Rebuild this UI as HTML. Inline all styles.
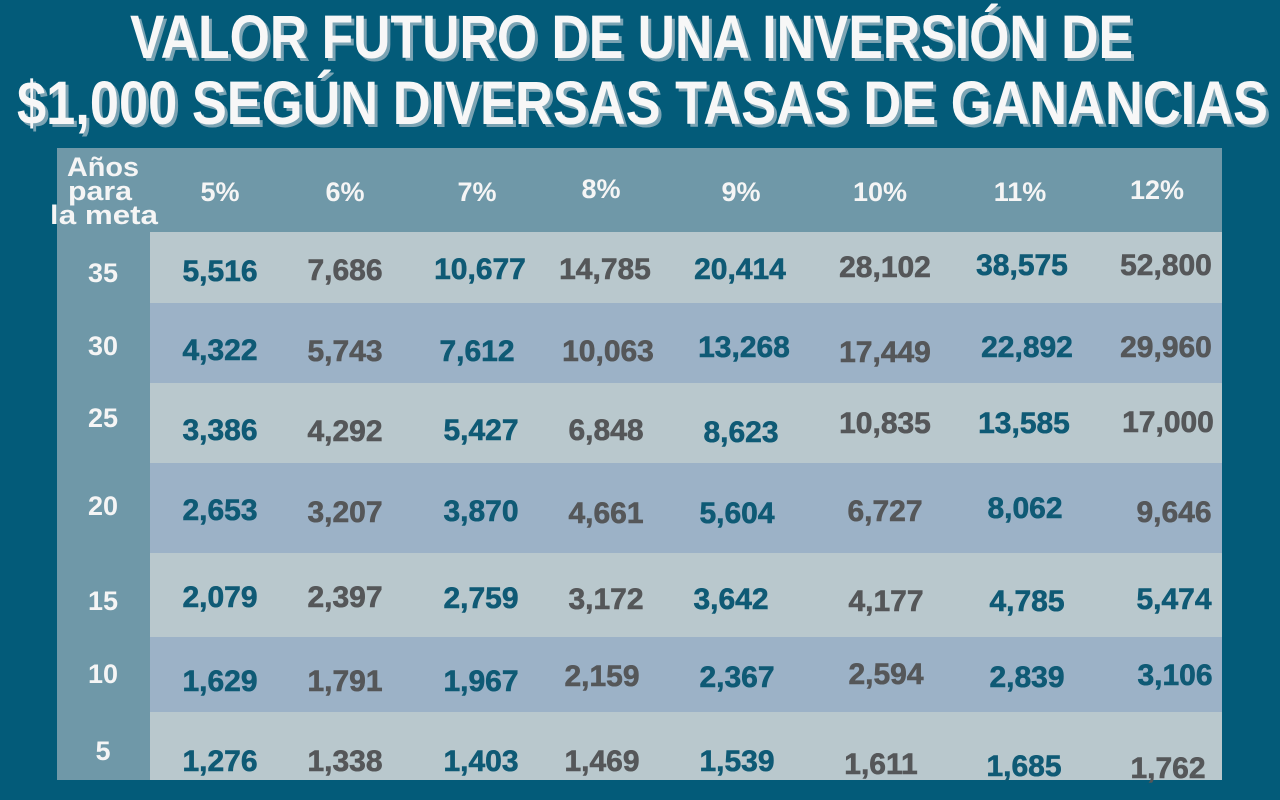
<!DOCTYPE html>
<html><head><meta charset="utf-8"><style>
html,body{margin:0;padding:0;background:#035b79;width:1280px;height:800px;overflow:hidden}
svg{display:block}
.t{font-family:"Liberation Sans",sans-serif;font-weight:bold;fill:#f7f7f7}
.n{font-family:"Liberation Sans",sans-serif;font-weight:bold;font-size:30px;text-anchor:middle;stroke-width:0.6}
.c{fill:#0f5a75;stroke:#0f5a75}.g{fill:#555759;stroke:#555759}
.h{font-family:"Liberation Sans",sans-serif;font-weight:bold;font-size:27px;fill:#f5f5f5;text-anchor:middle}
</style></head><body>
<svg width="1280" height="800" viewBox="0 0 1280 800" xmlns="http://www.w3.org/2000/svg">
<rect width="1280" height="800" fill="#035b79"/>
<g class="t" font-size="61">
<text x="133" y="61" textLength="1003" lengthAdjust="spacingAndGlyphs" fill="#7aa3b3">VALOR FUTURO DE UNA INVERSIÓN DE</text>
<text x="130" y="58" textLength="1003" lengthAdjust="spacingAndGlyphs">VALOR FUTURO DE UNA INVERSIÓN DE</text>
<text x="20" y="127" textLength="1251" lengthAdjust="spacingAndGlyphs" fill="#7aa3b3">$1,000 SEGÚN DIVERSAS TASAS DE GANANCIAS</text>
<text x="17" y="124" textLength="1251" lengthAdjust="spacingAndGlyphs">$1,000 SEGÚN DIVERSAS TASAS DE GANANCIAS</text>
</g>
<rect x="57" y="148" width="1165" height="632" fill="#6f98a8"/>
<rect x="150" y="232" width="1072" height="71" fill="#b9c8cd"/>
<rect x="150" y="303" width="1072" height="80" fill="#9cb2c7"/>
<rect x="150" y="383" width="1072" height="80" fill="#b9c8cd"/>
<rect x="150" y="463" width="1072" height="90" fill="#9cb2c7"/>
<rect x="150" y="553" width="1072" height="84" fill="#b9c8cd"/>
<rect x="150" y="637" width="1072" height="75" fill="#9cb2c7"/>
<rect x="150" y="712" width="1072" height="68" fill="#b9c8cd"/>
<g class="h" font-size="26">
<text x="103" y="176" textLength="72" lengthAdjust="spacingAndGlyphs">Años</text><text x="100" y="200" textLength="64" lengthAdjust="spacingAndGlyphs">para</text><text x="104" y="224" textLength="108" lengthAdjust="spacingAndGlyphs">la meta</text>
</g>
<g class="h">
<text x="220" y="201">5%</text><text x="345" y="201">6%</text><text x="477" y="201">7%</text><text x="601" y="198">8%</text>
<text x="741" y="201">9%</text><text x="880" y="201">10%</text><text x="1020" y="201">11%</text><text x="1157" y="199">12%</text>
<text x="103" y="282">35</text><text x="103" y="355">30</text><text x="103" y="427">25</text><text x="103" y="515">20</text>
<text x="103" y="610">15</text><text x="103" y="683">10</text><text x="103" y="760">5</text>
</g>
<g class="n">
<text class="c" x="220" y="281">5,516</text><text class="g" x="345" y="280">7,686</text><text class="c" x="480" y="279">10,677</text><text class="g" x="605" y="279">14,785</text><text class="c" x="740" y="279">20,414</text><text class="g" x="885" y="277">28,102</text><text class="c" x="1022" y="275">38,575</text><text class="g" x="1166" y="275">52,800</text>
<text class="c" x="220" y="360">4,322</text><text class="g" x="345" y="361">5,743</text><text class="c" x="477" y="361">7,612</text><text class="g" x="608" y="361">10,063</text><text class="c" x="744" y="357">13,268</text><text class="g" x="885" y="362">17,449</text><text class="c" x="1027" y="357">22,892</text><text class="g" x="1166" y="357">29,960</text>
<text class="c" x="220" y="440">3,386</text><text class="g" x="345" y="441">4,292</text><text class="c" x="481" y="440">5,427</text><text class="g" x="606" y="440">6,848</text><text class="c" x="741" y="442">8,623</text><text class="g" x="885" y="433">10,835</text><text class="c" x="1024" y="433">13,585</text><text class="g" x="1168" y="432">17,000</text>
<text class="c" x="220" y="520">2,653</text><text class="g" x="345" y="522">3,207</text><text class="c" x="481" y="521">3,870</text><text class="g" x="606" y="523">4,661</text><text class="c" x="737" y="523">5,604</text><text class="g" x="885" y="521">6,727</text><text class="c" x="1025" y="518">8,062</text><text class="g" x="1174" y="522">9,646</text>
<text class="c" x="220" y="607">2,079</text><text class="g" x="345" y="607">2,397</text><text class="c" x="481" y="608">2,759</text><text class="g" x="606" y="609">3,172</text><text class="c" x="731" y="609">3,642</text><text class="g" x="886" y="611">4,177</text><text class="c" x="1027" y="611">4,785</text><text class="c" x="1174" y="609">5,474</text>
<text class="c" x="220" y="691">1,629</text><text class="g" x="345" y="691">1,791</text><text class="c" x="481" y="691">1,967</text><text class="g" x="602" y="686">2,159</text><text class="c" x="737" y="687">2,367</text><text class="g" x="886" y="684">2,594</text><text class="c" x="1027" y="687">2,839</text><text class="c" x="1175" y="685">3,106</text>
<text class="c" x="220" y="771">1,276</text><text class="g" x="345" y="771">1,338</text><text class="c" x="481" y="771">1,403</text><text class="g" x="602" y="771">1,469</text><text class="c" x="737" y="771">1,539</text><text class="g" x="881" y="774">1,611</text><text class="c" x="1024" y="776">1,685</text><text class="g" x="1168" y="778">1,762</text>
</g>
</svg>
</body></html>
